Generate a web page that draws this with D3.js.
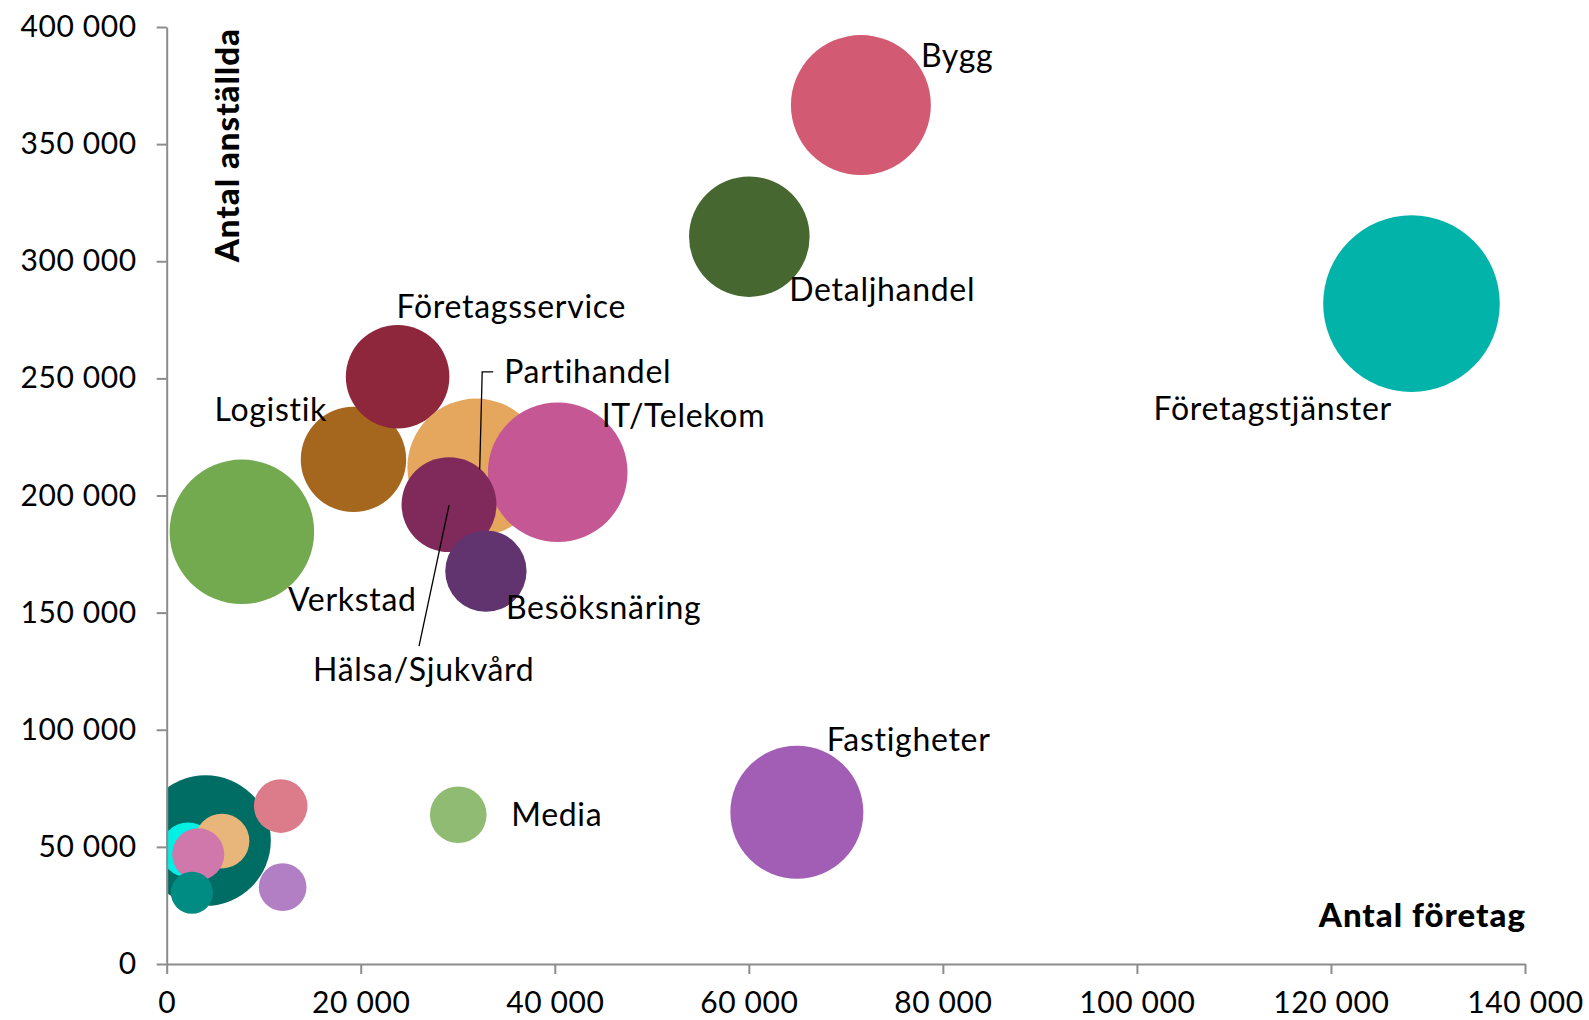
<!DOCTYPE html>
<html>
<head>
<meta charset="utf-8">
<script src="https://cdn.jsdelivr.net/npm/d3@7"></script>
<style>
body { margin: 0; background: #fff; }
text { font-family: Lato, "Noto Sans", sans-serif; fill: #000; }
</style>
</head>
<body>
<script>
// branscher, antal foretag (x), antal anstallda (y), bubbelstorlek (relativ)
var branscher = ["", "", "", "", "", "", "",
	"Verkstad", "Logistik", "Företagsservice", "Partihandel", "IT/Telekom",
	"Hälsa/Sjukvård", "Besöksnäring", "Media", "Fastigheter",
	"Detaljhandel", "Bygg", "Företagstjänster"];
var antalForetag = [4000, 2200, 5700, 3250, 2600, 11750, 11950,
	7750, 19250, 23800, 31900, 40300,
	29100, 32900, 30050, 64950,
	60050, 71550, 128300];
var antalAnstallda = [52700, 48700, 52500, 46800, 30400, 67400, 32800,
	184500, 215400, 250700, 212000, 209900,
	196100, 167700, 63700, 64800,
	310500, 366700, 281900];
var storlek = [54.7, 9.7, 9.6, 8.7, 5.7, 9.2, 7.3,
	67.0, 35.6, 34.4, 60.7, 62.5,
	28.9, 21.2, 10.3, 56.7,
	46.6, 62.8, 100];
var xTicks = [0, 20000, 40000, 60000, 80000, 100000, 120000, 140000];
var yTicks = [0, 50000, 100000, 150000, 200000, 250000, 300000, 350000, 400000];

var farger = ["#006d64", "#00f0e6", "#e8b67a", "#d077ac", "#008c82", "#dc7b8a", "#b27ec4",
	"#73aa50", "#a5661e", "#8e273b", "#e5a75e", "#c55795",
	"#7f2a5a", "#613470", "#8fbc72", "#a15eb4",
	"#46672f", "#d35a73", "#02b3a9"];

// etikettens placering relativt bubblans mitt (px)
var etikett = {
	"Verkstad": [46, 79],
	"Logistik": [-139, -38],
	"Företagsservice": [-1, -59],
	"Partihandel": [28, -84],
	"IT/Telekom": [44, -45],
	"Hälsa/Sjukvård": [-136, 176],
	"Besöksnäring": [20, 48],
	"Media": [53, 11],
	"Fastigheter": [30, -61],
	"Detaljhandel": [40, 64],
	"Bygg": [60, -38],
	"Företagstjänster": [-258, 116]
};
var linjer = {
	"Partihandel": [[3.5, 2], [6, -95.5], [17, -95.5]],
	"Hälsa/Sjukvård": [[0, 0.5], [-30, 141.5]]
};

var width = 1589,
	height = 1020;

var x = d3.scaleLinear().domain([0, 140000]).range([166.7, 1525]),
	y = d3.scaleLinear().domain([0, 400000]).range([964, 27]),
	r = d3.scaleSqrt().domain([0, 100]).range([0, 88.3]);

var sv = d3.formatLocale({decimal: ",", thousands: " ", grouping: [3], currency: ["", " kr"]}),
	fmt = sv.format(",");

var svg = d3.select("body").append("svg")
		.attr("width", width)
		.attr("height", height);

svg.append("clipPath")
		.attr("id", "plot")
	.append("rect")
		.attr("x", 166.7)
		.attr("y", 0)
		.attr("width", 1525 - 166.7)
		.attr("height", 964);

var data = branscher.map(function(d, i){
	return {namn: d, x: antalForetag[i], y: antalAnstallda[i], s: storlek[i], farg: farger[i]};
});

svg.append("g")
		.attr("clip-path", "url(#plot)")
	.selectAll("circle")
		.data(data)
	.enter().append("circle")
		.attr("cx", function(d){ return x(d.x); })
		.attr("cy", function(d){ return y(d.y); })
		.attr("r", function(d){ return r(d.s); })
		.attr("fill", function(d){ return d.farg; });

// axlar
var xAxis = svg.append("g")
		.attr("transform", "translate(0,964)")
		.call(d3.axisBottom(x).tickValues(xTicks).tickFormat(fmt).tickSizeInner(10).tickSizeOuter(0).tickPadding(18));
var yAxis = svg.append("g")
		.attr("transform", "translate(166.7,0)")
		.call(d3.axisLeft(y).tickValues(yTicks).tickFormat(fmt).tickSizeInner(10).tickSizeOuter(0).tickPadding(20));

[xAxis, yAxis].forEach(function(a){
	a.selectAll("path, line").attr("stroke", "#8c8c8c").attr("stroke-width", 2);
	a.selectAll("text")
		.attr("font-family", "Lato, 'Noto Sans', sans-serif")
		.attr("font-size", 30)
		.attr("letter-spacing", 0.6)
		.attr("fill", "#000");
});

// etiketter
var lab = data.filter(function(d){ return d.namn; });
svg.append("g").selectAll("text")
		.data(lab)
	.enter().append("text")
		.attr("x", function(d){ return x(d.x) + etikett[d.namn][0]; })
		.attr("y", function(d){ return y(d.y) + etikett[d.namn][1]; })
		.attr("font-size", 32)
		.attr("letter-spacing", 0.7)
		.text(function(d){ return d.namn; });

svg.append("g").selectAll("path")
		.data(lab.filter(function(d){ return linjer[d.namn]; }))
	.enter().append("path")
		.attr("fill", "none")
		.attr("stroke", "#000")
		.attr("stroke-width", 1.3)
		.attr("d", function(d){
			return d3.line()(linjer[d.namn].map(function(p){ return [x(d.x) + p[0], y(d.y) + p[1]]; }));
		});

svg.append("text")
		.attr("x", 1526)
		.attr("y", 927)
		.attr("text-anchor", "end")
		.attr("font-weight", 900)
		.attr("font-size", 33)
		.attr("letter-spacing", 1)
		.text("Antal företag");

svg.append("text")
		.attr("transform", "translate(239,28) rotate(-90)")
		.attr("text-anchor", "end")
		.attr("font-weight", 900)
		.attr("font-size", 33)
		.attr("letter-spacing", 1)
		.text("Antal anställda");
</script>
</body>
</html>
